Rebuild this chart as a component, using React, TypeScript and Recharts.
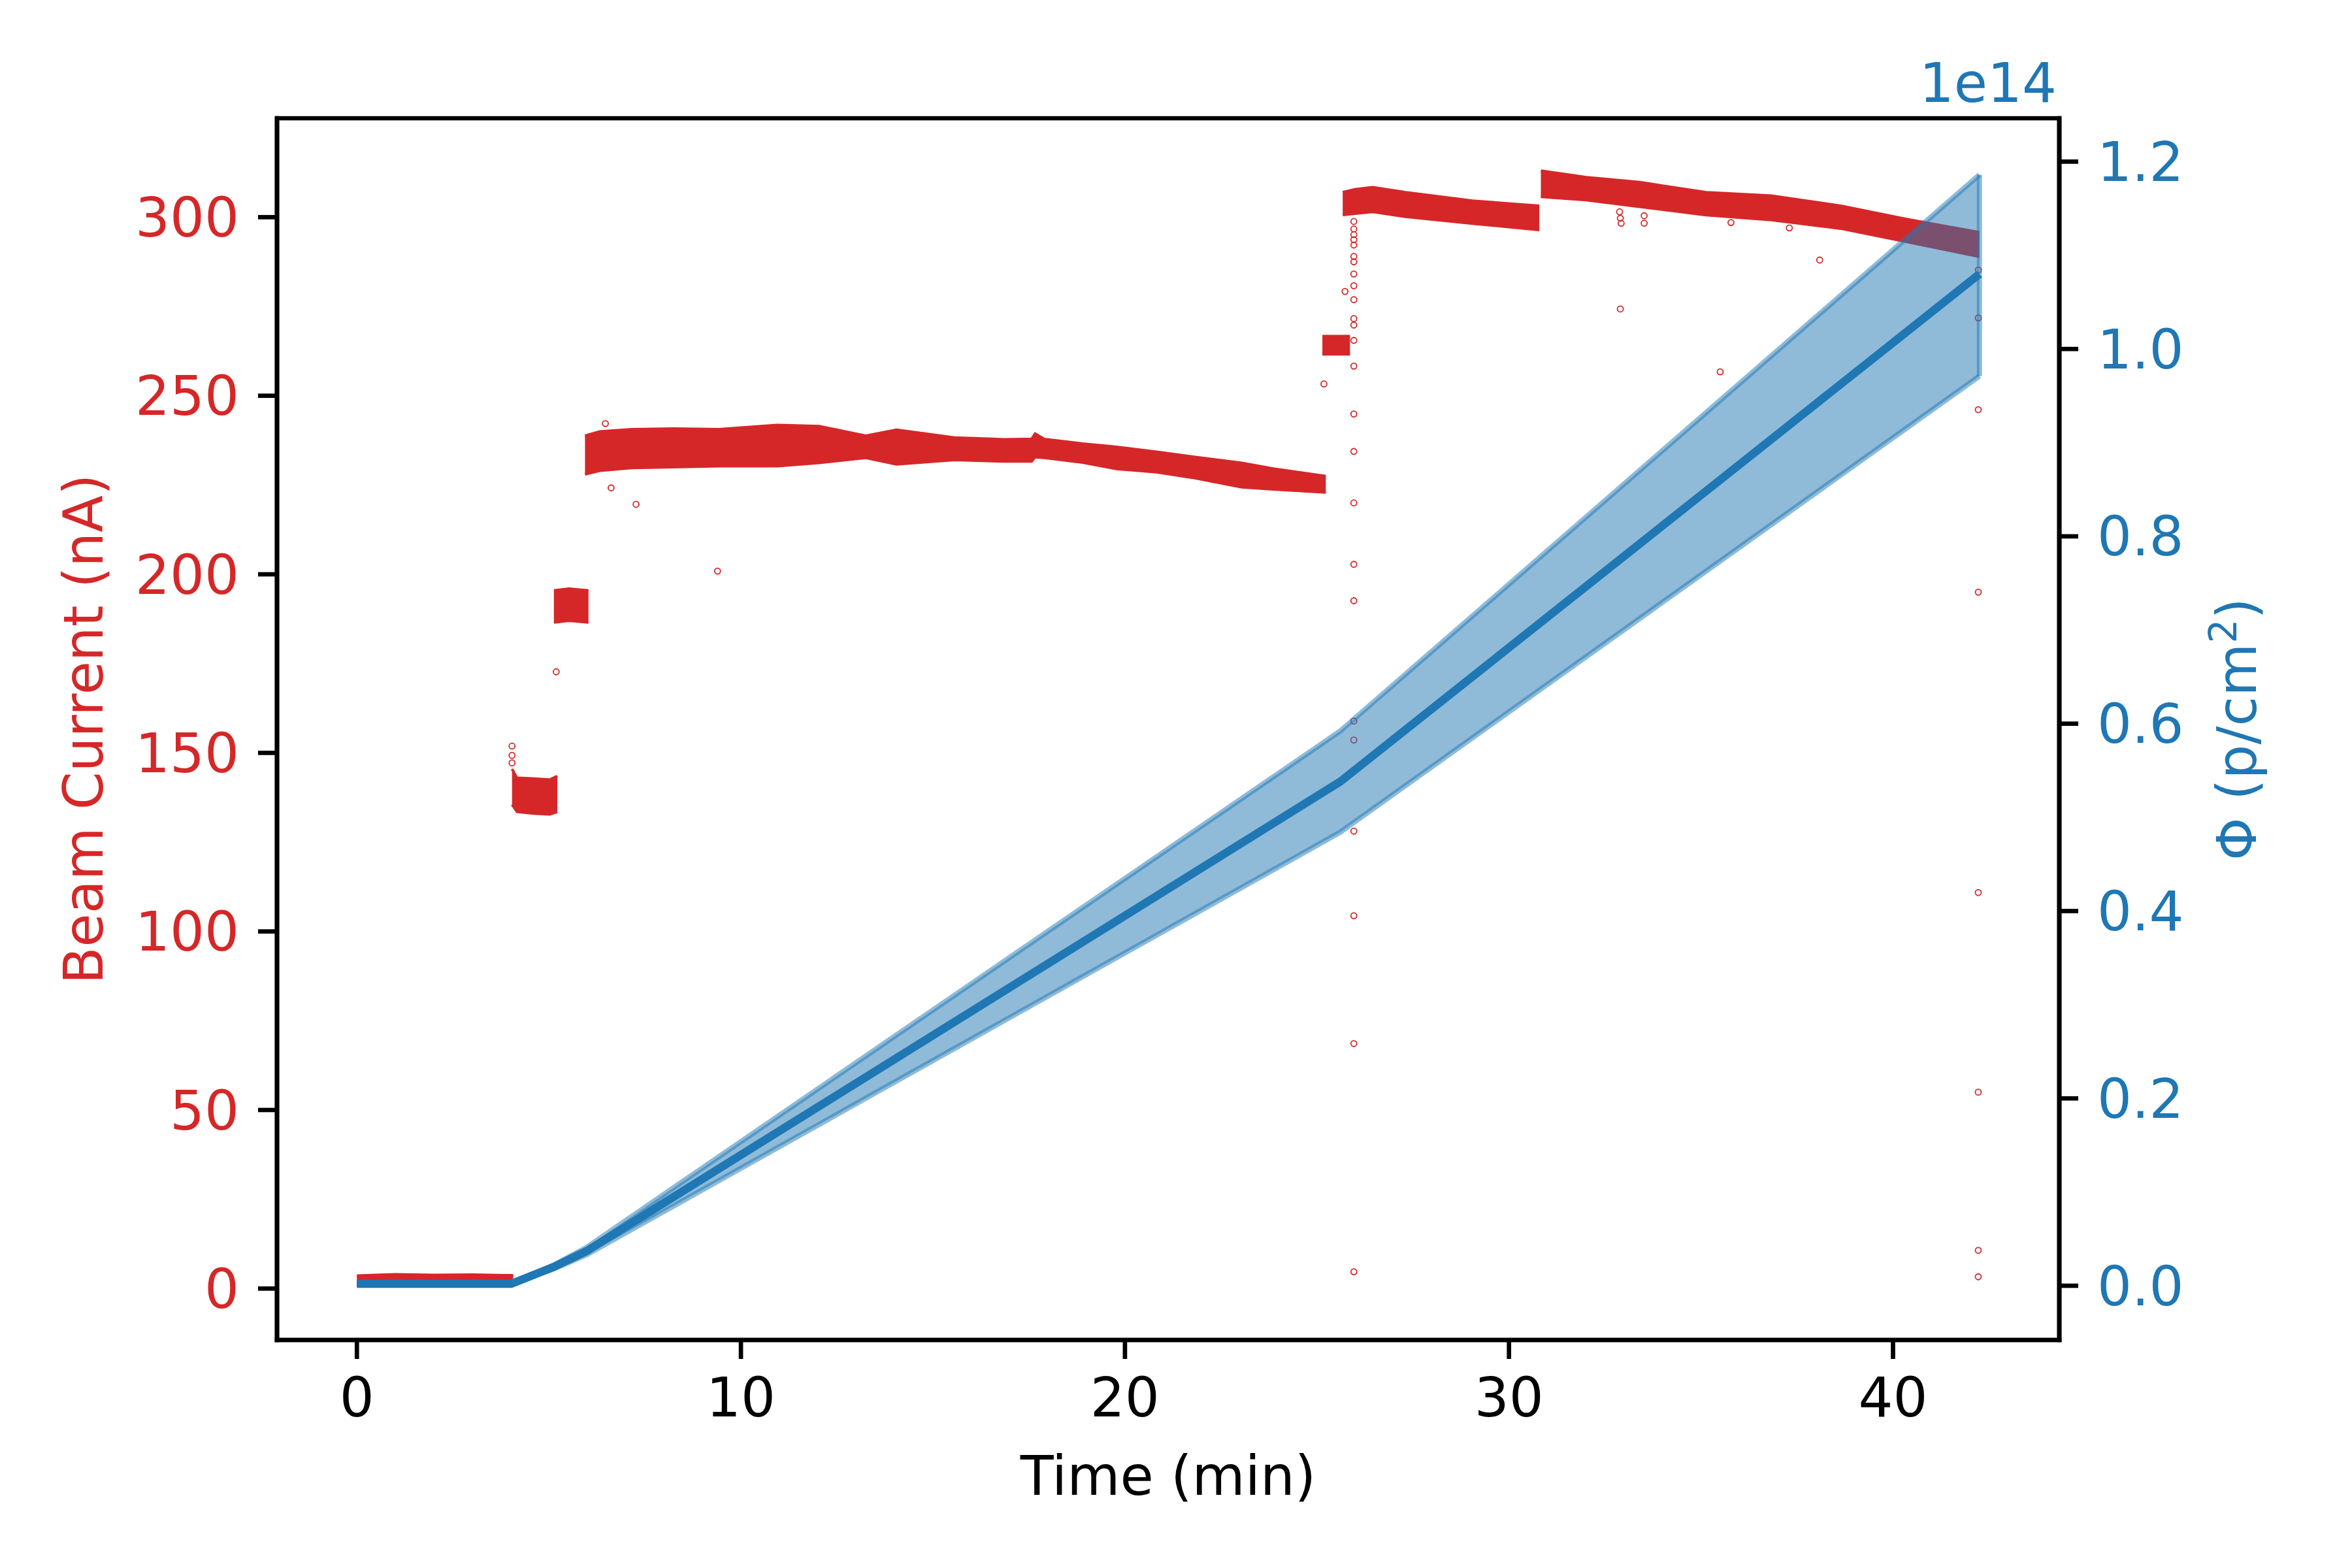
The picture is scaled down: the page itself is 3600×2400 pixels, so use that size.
import React from "react";
import {
  ComposedChart,
  Area,
  Line,
  Scatter,
  XAxis,
  YAxis,
  Label,
  ReferenceArea,
} from "recharts";

const RED = "#d62728";
const BLUE = "#1f77b4";
const FONT = "DejaVu Sans";
const FS = 83.3;

const timeDomain = [-2.08, 44.33];
const currentDomain = [-14.4, 327.7];
const fluenceDomain = [-0.0579, 1.2463];

const timeTicks = [0, 10, 20, 30, 40];
const currentTicks = [0, 50, 100, 150, 200, 250, 300];
const fluenceTicks = [0, 0.2, 0.4, 0.6, 0.8, 1.0, 1.2];

// beam current, dense scatter read as a band: [time (min), low (nA), high (nA)]
const beamOff = [[0, 1.0, 3.6], [1.0, 1.0, 4.0], [2.0, 0.9, 3.8], [3.0, 1.0, 3.9], [4.07, 1.0, 3.7]];
const step140 = [[4.04, 135.5, 145.5], [4.17, 133.5, 143], [4.62, 133, 142.8], [5.02, 132.8, 142.5], [5.22, 133.5, 143.5]];
const step190 = [[5.13, 186.5, 195.5], [5.52, 187, 196], [6.03, 186.5, 195.5]];
const plateau235 = [
  [5.94, 228.0, 238.8], [6.32, 229.0, 240.0], [7.16, 229.8, 240.6], [8.23, 230.0, 240.8],
  [9.43, 230.3, 240.6], [10.94, 230.3, 241.8], [12.04, 231.2, 241.5], [13.25, 232.6, 238.8],
  [14.05, 230.8, 240.5], [15.56, 232.0, 238.3], [16.86, 231.6, 237.8], [17.57, 231.6, 237.9],
  [17.66, 232.8, 239.4], [17.9, 232.6, 237.9], [18.9, 231.3, 236.6], [19.78, 229.5, 235.7],
  [20.82, 228.6, 234.3], [21.73, 227.1, 233.0], [23.04, 224.4, 231.2], [23.86, 223.8, 229.6],
  [25.23, 222.9, 227.5],
];
const step264 = [[25.14, 261.6, 266.7], [25.86, 261.6, 266.7]];
const plateau305 = [
  [25.67, 300.6, 307.0], [25.99, 301.0, 307.8], [26.45, 301.5, 308.4], [27.3, 300.1, 307.0],
  [29.05, 298.2, 304.6], [30.79, 296.4, 303.2],
];
const plateau310 = [
  [30.83, 305.7, 313.0], [32.01, 304.8, 311.2], [33.4, 302.9, 309.8], [35.13, 300.6, 307.0],
  [36.83, 299.2, 306.0], [38.64, 296.8, 303.2], [40.34, 293.1, 299.5], [42.25, 288.9, 295.8],
];
const currentBands = [beamOff, step140, step190, plateau235, step264, plateau305, plateau310];

// isolated beam current points: [time, current]
const strayPoints = [
  [4.04, 151.9], [4.04, 149.3], [4.04, 147.2], [5.19, 172.7],
  [6.47, 242.2], [6.62, 224.2], [7.27, 219.6], [9.39, 200.9],
  [25.18, 253.3], [25.73, 279.2],
  [25.96, 298.8], [25.96, 296.7], [25.96, 295.1], [25.96, 293.7], [25.96, 292.2],
  [25.96, 289.0], [25.96, 287.5], [25.96, 284.1], [25.96, 280.8], [25.96, 276.9],
  [25.96, 271.6], [25.96, 269.8], [25.96, 265.5], [25.96, 258.3], [25.96, 244.9],
  [25.96, 234.4], [25.96, 220.0], [25.96, 202.8], [25.96, 192.6], [25.96, 158.9],
  [25.96, 153.6], [25.96, 128.1], [25.96, 104.4], [25.96, 68.6], [25.96, 4.7],
  [32.88, 301.5], [32.9, 299.7], [32.92, 298.3], [33.52, 300.4], [33.52, 298.3],
  [35.78, 298.5], [37.3, 297.0], [38.09, 288.0], [32.9, 274.3], [35.5, 256.7],
  [42.22, 285.2], [42.22, 271.8], [42.22, 246.1], [42.22, 195.0], [42.22, 110.9],
  [42.22, 55.0], [42.22, 10.7], [42.22, 3.3],
];

// fluence, in units of 1e14 p/cm^2
const fluenceTime = [0, 4.02, 5.12, 5.98, 25.6, 42.25];
const fluenceMean = [0.002, 0.002, 0.02, 0.037, 0.538, 1.08];
const fluenceLow = [0.002, 0.002, 0.018, 0.033, 0.484, 0.971];
const fluenceHigh = [0.002, 0.002, 0.022, 0.041, 0.592, 1.186];

const fluenceRows = fluenceTime.map((t, i) => ({
  t,
  mean: fluenceMean[i],
  band: [fluenceLow[i], fluenceHigh[i]],
}));
const last = fluenceTime.length - 1;
const bandEndRows = [
  { t: fluenceTime[last], v: fluenceLow[last] },
  { t: fluenceTime[last], v: fluenceHigh[last] },
];
const strayRows = strayPoints.map(([t, i]) => ({ t, i }));

const spine = { stroke: "#000", strokeWidth: 6.7, strokeLinecap: "square" as const };
const tickLine = { stroke: "#000", strokeWidth: 6.7 };
const textStyle = { fontSize: FS, fontFamily: FONT };

function TimeLabel(props: any) {
  const { viewBox } = props;
  return (
    <text x={viewBox.x + viewBox.width / 2} y={viewBox.y + 237} textAnchor="middle" fill="#000" {...textStyle}>
      Time (min)
    </text>
  );
}

function CurrentLabel(props: any) {
  const { viewBox } = props;
  const x = viewBox.x + 157;
  const y = viewBox.y + viewBox.height / 2;
  return (
    <text x={x} y={y} transform={`rotate(-90 ${x} ${y})`} textAnchor="middle" fill={RED} {...textStyle}>
      Beam Current (nA)
    </text>
  );
}

function FluenceLabel(props: any) {
  const { viewBox } = props;
  const x = viewBox.x + 301;
  const y = viewBox.y + viewBox.height / 2;
  return (
    <g>
      <text x={viewBox.x - 4} y={viewBox.y - 25} textAnchor="end" fill={BLUE} {...textStyle}>
        1e14
      </text>
      <text x={x} y={y} transform={`rotate(-90 ${x} ${y})`} textAnchor="middle" fill={BLUE} {...textStyle}>
        Φ (p/cm
        <tspan dy={-30} fontSize={58}>2</tspan>
        <tspan dy={30}>)</tspan>
      </text>
    </g>
  );
}

function RingDot(props: any) {
  const { cx, cy } = props;
  if (cx == null || cy == null) return null;
  return <circle cx={cx} cy={cy} r={4.5} fill="none" stroke={RED} strokeWidth={1.8} />;
}

export default function App() {
  return (
    <div style={{ position: "absolute", left: 0, top: 0, width: 3600, height: 2400, background: "#fff" }}>
      <ComposedChart width={3600} height={2400} margin={{ top: 181, right: 0, bottom: 0, left: 0 }}>
        <XAxis
          dataKey="t"
          type="number"
          domain={timeDomain}
          allowDataOverflow
          ticks={timeTicks}
          interval={0}
          height={349}
          tickSize={29}
          tickMargin={29}
          axisLine={spine}
          tickLine={tickLine}
          tick={{ fill: "#000", ...textStyle }}
          label={<Label content={TimeLabel} />}
        />
        <YAxis
          yAxisId="left"
          type="number"
          domain={currentDomain}
          allowDataOverflow
          ticks={currentTicks}
          interval={0}
          width={424}
          tickSize={29}
          tickMargin={29}
          axisLine={spine}
          tickLine={tickLine}
          tick={{ fill: RED, ...textStyle }}
          label={<Label content={CurrentLabel} />}
        />
        <YAxis
          yAxisId="right"
          orientation="right"
          type="number"
          domain={fluenceDomain}
          allowDataOverflow
          ticks={fluenceTicks}
          interval={0}
          width={448}
          tickSize={29}
          tickMargin={29}
          axisLine={spine}
          tickLine={tickLine}
          tick={{ fill: BLUE, ...textStyle }}
          tickFormatter={(v: number) => v.toFixed(1)}
          label={<Label content={FluenceLabel} />}
        />

        <Scatter
          yAxisId="left"
          data={strayRows}
          dataKey="i"
          shape={<RingDot />}
          zIndex={50}
          isAnimationActive={false}
        />
        {currentBands.map((seg, k) => (
          <Area
            key={`cur-${k}`}
            yAxisId="left"
            data={seg.map(([t, lo, hi]) => ({ t, band: [lo, hi] }))}
            dataKey="band"
            type="linear"
            fill={RED}
            fillOpacity={1}
            stroke={RED}
            strokeWidth={4}
            dot={false}
            activeDot={false}
            isAnimationActive={false}
          />
        ))}
        <Area
          yAxisId="right"
          data={fluenceRows}
          dataKey="band"
          type="linear"
          fill={BLUE}
          fillOpacity={0.5}
          stroke={BLUE}
          strokeOpacity={0.5}
          strokeWidth={8}
          dot={false}
          activeDot={false}
          isAnimationActive={false}
        />
        <Line
          yAxisId="right"
          data={bandEndRows}
          dataKey="v"
          type="linear"
          stroke={BLUE}
          strokeOpacity={0.5}
          strokeWidth={8}
          dot={false}
          activeDot={false}
          isAnimationActive={false}
        />
        <Line
          yAxisId="right"
          data={fluenceRows}
          dataKey="mean"
          type="linear"
          stroke={BLUE}
          strokeWidth={12.5}
          dot={false}
          activeDot={false}
          isAnimationActive={false}
        />
        <ReferenceArea
          yAxisId="left"
          x1={timeDomain[0]}
          x2={timeDomain[1]}
          y1={currentDomain[0]}
          y2={currentDomain[1]}
          ifOverflow="visible"
          fill="none"
          fillOpacity={0}
          stroke="#000"
          strokeWidth={6.7}
        />
      </ComposedChart>
    </div>
  );
}
